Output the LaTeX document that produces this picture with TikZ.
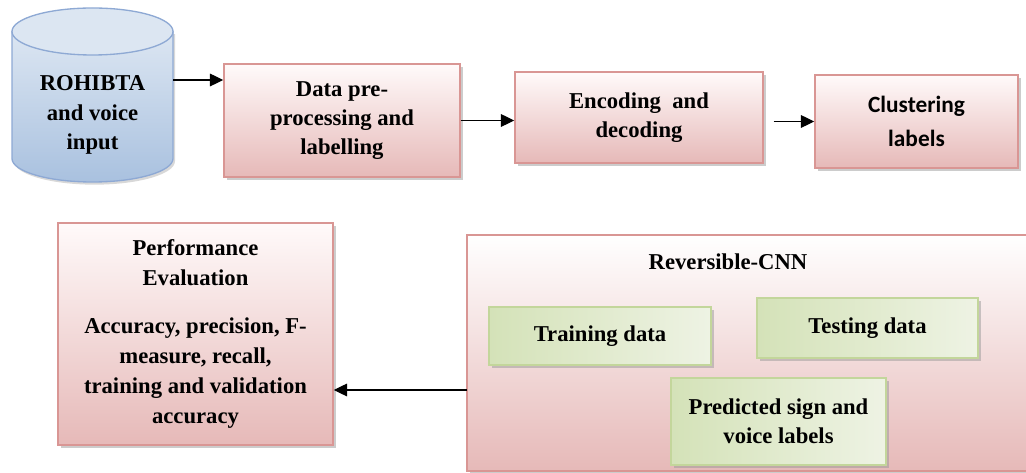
\documentclass[tikz,border=0pt]{standalone}
\usepackage{fontspec}
\setmainfont{Liberation Serif}
\newfontfamily\calibfont{Carlito}
\usetikzlibrary{arrows.meta, shadows}

\definecolor{pinkline}{HTML}{D99694}
\definecolor{pinkbot}{HTML}{E6B9B8}
\definecolor{pinktop}{HTML}{FFFAFA}
\definecolor{greenline}{HTML}{C3D69B}
\definecolor{greendark}{HTML}{D4E2B8}
\definecolor{greenlight}{HTML}{EEF3E4}
\definecolor{cylline}{HTML}{8EA9D4}
\definecolor{cyltop}{HTML}{DCE6F2}
\definecolor{cylbot}{HTML}{A9C1DF}

\tikzset{
  sz/.style 2 args={minimum width=#1*0.75pt, minimum height=#2*0.75pt},
  serifb/.style={font=\bfseries\fontsize{17}{22}\selectfont},
  pinkbox/.style={draw=pinkline, line width=1.1pt, top color=pinktop, bottom color=pinkbot,
    drop shadow={shadow xshift=2.5pt, shadow yshift=-2.5pt, fill=black!40},
    inner sep=0pt, align=center, serifb},
  greenbox/.style={draw=greenline, line width=1.1pt, left color=greendark, right color=greenlight,
    drop shadow={shadow xshift=2.5pt, shadow yshift=-2.5pt, fill=black!40},
    inner sep=0pt, align=center, serifb},
  arr/.style={-{Triangle[length=10pt, width=9.5pt]}, line width=0.9pt}
}

\begin{document}
\begin{tikzpicture}[x=0.75pt, y=-0.75pt]
  \useasboundingbox (0,0) rectangle (1026,473);

  % database cylinder
  \path[draw=cylline, line width=1pt, top color=cyltop, bottom color=cylbot,
    drop shadow={shadow xshift=1.5pt, shadow yshift=-2pt, fill=black!30}]
    (12,31.5) -- (12,158.5) arc[start angle=180, end angle=0, x radius=80.5, y radius=23.5]
    -- (173,31.5) -- cycle;
  \path[draw=cylline, line width=1pt, fill=cyltop] (92.5,31.5) ellipse [x radius=80.5, y radius=23.5];
  \node[serifb, align=center] (db) at (92.5,115) {ROHIBTA\\and voice\\input};
  \coordinate (dbout) at (173,80);

  % top row
  \node[pinkbox, sz={236}{113}] (prep) at (342,120.5) {Data pre-\\processing and\\labelling};
  \node[pinkbox, sz={248}{91}] (enc) at (639,117.5) {Encoding\ \ and\\decoding};
  \node[pinkbox, sz={203}{93}, font=\calibfont\bfseries\fontsize{17.5}{25}\selectfont] (clus) at (916.5,121.5) {Clustering\\labels};

  % bottom row
  \node[pinkbox, sz={275}{222}, font=\bfseries\fontsize{17}{22.5}\selectfont] (perf) at (195.5,334)
    {Performance\\Evaluation\\[13pt]Accuracy, precision, F-\\measure, recall,\\training and validation\\accuracy};
  \node[pinkbox, sz={563}{236}, top color=white] (rev) at (748.5,353) {};
  \node[serifb] (revtitle) at (728,262) {Reversible-CNN};
  \node[greenbox, sz={222}{58}] (train) at (600,336) {Training data};
  \node[greenbox, sz={221}{60}] (test) at (867.5,328) {Testing data};
  \node[greenbox, sz={215}{87}] (pred) at (778.5,421.5) {Predicted sign and\\voice labels};
  \coordinate (revout) at (467,390);

  % connectors
  \draw[arr] (dbout) -- (dbout -| prep.west);
  \draw[arr] (prep.east) -- (prep.east -| enc.west);
  \draw[arr, shorten <=7.5pt] (clus.west -| enc.east) -- (clus.west);
  \draw[arr] (revout) -- (revout -| perf.east);
\end{tikzpicture}
\end{document}
